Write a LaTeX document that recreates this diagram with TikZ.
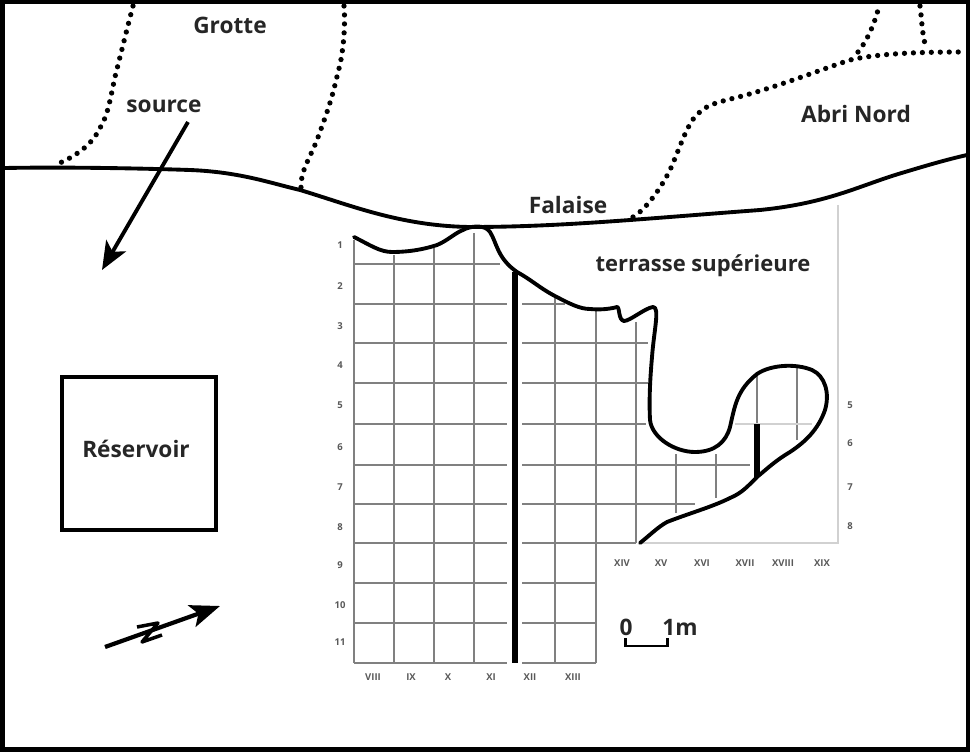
\documentclass[tikz,border=0pt]{standalone}
\usepackage{fontspec}
\setmainfont{Open Sans}
\usetikzlibrary{arrows.meta,positioning}
\definecolor{gridgray}{gray}{0.5}
\definecolor{lightgray}{gray}{0.82}
\tikzset{
  gridline/.style={draw=gridgray, line width=1.2pt},
  palerule/.style={draw=lightgray, line width=1.2pt},
  cliff/.style={line width=2.2pt, line cap=round, line join=round},
  dots/.style={line width=3pt, line cap=round, dash pattern=on 0pt off 5.1pt},
  heavy/.style={line width=3.8pt},
  place/.style={font=\bfseries\fontsize{12.9}{15}\selectfont, text=black!85},
  ticklabel/.style={font=\bfseries\fontsize{5.4}{6}\selectfont, text=black!65, inner sep=0pt}
}
\begin{document}
\begin{tikzpicture}[x=0.2mm, y=-0.2mm, >={Stealth}]
  \useasboundingbox (0,0) rectangle (970,752);
  % grid, columns
  \foreach \x/\ytop/\ybot in {354/240/663, 394/255/663, 434/248/663, 474/233/663, 555/297/663, 596/310/663, 636/322/543, 676/454/513, 716/454/498, 757/372/424, 797/367/440}
    \draw[gridline] (\x,\ytop) -- (\x,\ybot);
  % grid, rows
  \draw[gridline] (354,264) -- (500,264);
  \foreach \y/\xend in {304/565, 343/648, 383/648, 424/646, 465/750, 504/695, 543/636, 583/596, 623/596, 663/596} {
    \draw[gridline] (354,\y) -- (507,\y);
    \draw[gridline] (522,\y) -- (\xend,\y);
  }
  \draw[palerule] (735,424) -- (812,424);
  \draw[palerule] (838,205) -- (838,543) -- (640,543);
  % thick sections
  \draw[heavy] (515,272) -- (515,663);
  \draw[line width=3.4pt] (757,424) -- (757,477);
  % cliff and terrace edge
  \draw[cliff] (5,168) .. controls (60,167) and (130,168) .. (190,170) .. controls (240,172) and (270,183) .. (300,190) .. controls (350,205) and (400,226) .. (470,227) .. controls (560,227) and (640,219) .. (760,210) .. controls (830,203) and (860,185) .. (905,172) .. controls (925,166) and (945,160) .. (967,155);
  \draw[cliff] (354,237) .. controls (370,245) and (380,252) .. (392,252) .. controls (410,252) and (425,249) .. (437,245) .. controls (447,241) and (455,233) .. (463,230) .. controls (470,226) and (485,224) .. (490,232) .. controls (497,243) and (497,258) .. (517,272) .. controls (530,279) and (540,288) .. (553,295) .. controls (570,304) and (580,309) .. (590,309) .. controls (600,310) and (610,309) .. (617,307) .. controls (620,307) and (618,320) .. (624,321) .. controls (630,321) and (645,308) .. (653,307) .. controls (660,307) and (654,330) .. (652,357) .. controls (650,380) and (649,400) .. (650,420) .. controls (652,438) and (675,452) .. (695,452) .. controls (715,452) and (726,442) .. (730,427) .. controls (735,405) and (737,390) .. (757,374) .. controls (770,365) and (795,363) .. (812,370) .. controls (825,376) and (830,393) .. (825,410) .. controls (818,430) and (805,442) .. (790,452) .. controls (775,461) and (768,468) .. (757,477) .. controls (748,486) and (742,493) .. (730,498) .. controls (712,507) and (690,513) .. (667,522) .. controls (658,527) and (650,535) .. (640,543);
  % dotted limits
  \draw[dots] (133,6) .. controls (128,25) and (118,65) .. (115,77) .. controls (110,100) and (108,115) .. (100,128) .. controls (92,145) and (75,157) .. (55,165);
  \draw[dots] (344,6) .. controls (346,30) and (342,60) .. (338,72) .. controls (332,100) and (325,118) .. (317,140) .. controls (310,158) and (300,172) .. (301,188);
  \draw[dots] (633,217) .. controls (645,210) and (660,190) .. (670,170) .. controls (680,148) and (688,120) .. (700,112) .. controls (710,102) and (730,100) .. (753,93) .. controls (790,82) and (820,70) .. (850,60) .. controls (880,53) and (925,52) .. (963,52);
  \draw[dots] (858,52) .. controls (866,42) and (873,28) .. (878,10);
  \draw[dots] (920,6) .. controls (922,20) and (922,38) .. (927,50);
  % frame and reservoir
  \draw[line width=2.8pt] (2.5,2) rectangle (968.5,749.5);
  \node[draw, line width=2pt, minimum width=30.8mm, minimum height=30.6mm, inner sep=0pt] (reservoirbox) at (139,453.5) {};
  % place names
  \node[place] (grotte) at (230,25) {Grotte};
  \node[place] (source) at (164,106) {source};
  \node[place] (abri) at (856,114) {Abri Nord};
  \node[place] (falaise) at (568,205) {Falaise};
  \node[place, font=\bfseries\fontsize{12.5}{15}\selectfont] (terrasse) at (703,266) {terrasse supérieure};
  \node[place] (reservoir) at (136,449) {Réservoir};
  % source arrow
  \coordinate (sourcestart) at (188,122);
  \coordinate (sourceend) at (102,270);
  \draw[->, >={Stealth[length=16pt, width=13pt, inset=4pt]}, line width=2.2pt] (sourcestart) -- (sourceend);
  % north arrow
  \coordinate (northstart) at (105,647);
  \coordinate (northend) at (220,606);
  \draw[->, >={Stealth[length=17pt, width=13pt, inset=4pt]}, line width=2.4pt] (northstart) -- (northend);
  \draw[line width=2pt, line join=round] (137,627) -- (158,623) -- (142,642) -- (162,635);
  % scale bar
  \node[place, inner sep=0pt] (scalezero) at (626,627) {0};
  \node[place, inner sep=0pt] (scaleone) at (680,627) {1m};
  \draw[line width=1.7pt] (625,638) -- (625,646) -- (667,646) -- (667,638);
  % row labels
  \foreach \name/\y in {1/245, 2/286, 3/326, 4/365, 5/405, 6/447, 7/487, 8/527, 9/565, 10/605, 11/642}
    \node[ticklabel] (row\name) at (340,\y) {\name};
  \foreach \name/\y in {5/405, 6/443, 7/487, 8/526}
    \node[ticklabel] (rowr\name) at (850,\y) {\name};
  % column labels
  \foreach \name/\x in {VIII/373, IX/411, X/448, XI/491, XII/530, XIII/573}
    \node[ticklabel] (col\name) at (\x,677) {\name};
  \foreach \name/\x in {XIV/622, XV/661, XVI/702, XVII/745, XVIII/783, XIX/822}
    \node[ticklabel] (col\name) at (\x,563) {\name};
\end{tikzpicture}
\end{document}
